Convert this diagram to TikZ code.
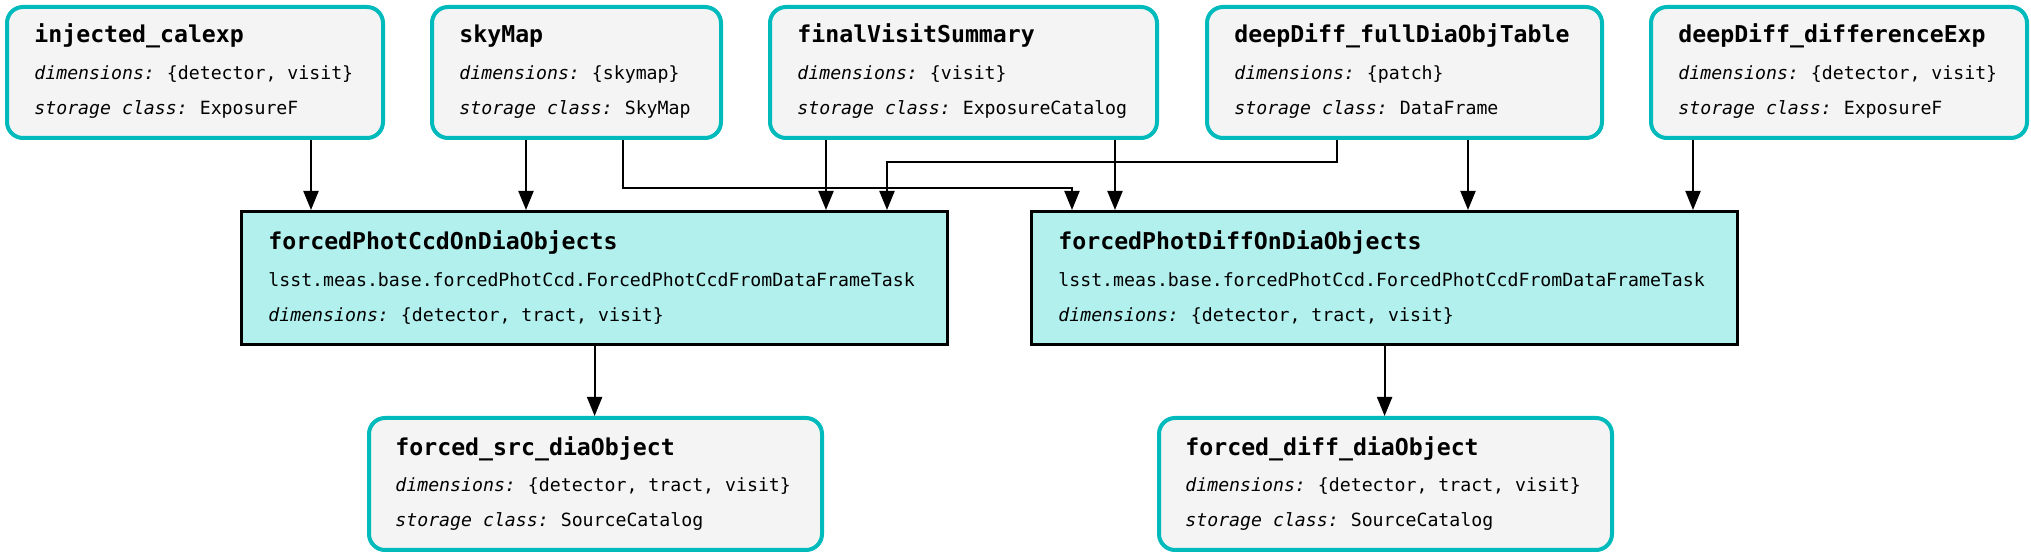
\documentclass[tikz,border=0pt]{standalone}
\usepackage{fontspec}
\newfontfamily\dvm{DejaVu Sans Mono}[ItalicFont={DejaVu Sans Mono Oblique},BoldFont={DejaVu Sans Mono Bold}]
\usetikzlibrary{arrows.meta,calc}
\definecolor{dsborder}{HTML}{00BABC}
\definecolor{dsfill}{HTML}{F4F4F4}
\definecolor{taskfill}{HTML}{B2F0EE}
\newcommand{\dlabel}[1]{{\itshape #1}\hspace{6pt}}
\tikzset{
 ds/.style={draw=dsborder, line width=2pt, fill=dsfill, rounded corners=8pt, inner sep=0pt, anchor=north west},
 task/.style={draw=black, line width=1.6pt, fill=taskfill, inner sep=0pt, anchor=north west},
 ttl/.style={anchor=mid west, inner sep=0pt, font=\dvm\bfseries\fontsize{11.6}{13}\selectfont},
 txt/.style={anchor=mid west, inner sep=0pt, font=\dvm\fontsize{9.1}{11}\selectfont},
 arr/.style={line width=1pt, -{Triangle[length=9.5pt,width=7.5pt]}},
}
\begin{document}
\begin{tikzpicture}[x=0.5pt,y=-0.5pt]
\useasboundingbox (0,0) rectangle (2031,555);
% top row datasets
\node[ds, minimum width=188pt, minimum height=65.5pt] (n1) at (5,5) {};
\node[ttl] (n1a) at ($(n1.north west)+(29,33)$) {injected\_calexp};
\node[txt] (n1b) at ($(n1.north west)+(29,70)$) {\dlabel{dimensions:}\{detector, visit\}};
\node[txt] (n1c) at ($(n1.north west)+(29,105)$) {\dlabel{storage class:}ExposureF};

\node[ds, minimum width=144.5pt, minimum height=65.5pt] (n2) at (430,5) {};
\node[ttl] (n2a) at ($(n2.north west)+(29,33)$) {skyMap};
\node[txt] (n2b) at ($(n2.north west)+(29,70)$) {\dlabel{dimensions:}\{skymap\}};
\node[txt] (n2c) at ($(n2.north west)+(29,105)$) {\dlabel{storage class:}SkyMap};

\node[ds, minimum width=193.5pt, minimum height=65.5pt] (n3) at (768,5) {};
\node[ttl] (n3a) at ($(n3.north west)+(29,33)$) {finalVisitSummary};
\node[txt] (n3b) at ($(n3.north west)+(29,70)$) {\dlabel{dimensions:}\{visit\}};
\node[txt] (n3c) at ($(n3.north west)+(29,105)$) {\dlabel{storage class:}ExposureCatalog};

\node[ds, minimum width=197.5pt, minimum height=65.5pt] (n4) at (1205,5) {};
\node[ttl] (n4a) at ($(n4.north west)+(29,33)$) {deepDiff\_fullDiaObjTable};
\node[txt] (n4b) at ($(n4.north west)+(29,70)$) {\dlabel{dimensions:}\{patch\}};
\node[txt] (n4c) at ($(n4.north west)+(29,105)$) {\dlabel{storage class:}DataFrame};

\node[ds, minimum width=188pt, minimum height=65.5pt] (n5) at (1649,5) {};
\node[ttl] (n5a) at ($(n5.north west)+(29,33)$) {deepDiff\_differenceExp};
\node[txt] (n5b) at ($(n5.north west)+(29,70)$) {\dlabel{dimensions:}\{detector, visit\}};
\node[txt] (n5c) at ($(n5.north west)+(29,105)$) {\dlabel{storage class:}ExposureF};

% tasks
\node[task, minimum width=353pt, minimum height=66.5pt] (n6) at (240,210) {};
\node[ttl] (n6a) at ($(n6.north west)+(28,35)$) {forcedPhotCcdOnDiaObjects};
\node[txt] (n6b) at ($(n6.north west)+(28,72.5)$) {lsst.meas.base.forcedPhotCcd.ForcedPhotCcdFromDataFrameTask};
\node[txt] (n6c) at ($(n6.north west)+(28,107.5)$) {\dlabel{dimensions:}\{detector, tract, visit\}};

\node[task, minimum width=353pt, minimum height=66.5pt] (n7) at (1030,210) {};
\node[ttl] (n7a) at ($(n7.north west)+(28,35)$) {forcedPhotDiffOnDiaObjects};
\node[txt] (n7b) at ($(n7.north west)+(28,72.5)$) {lsst.meas.base.forcedPhotCcd.ForcedPhotCcdFromDataFrameTask};
\node[txt] (n7c) at ($(n7.north west)+(28,107.5)$) {\dlabel{dimensions:}\{detector, tract, visit\}};

% outputs
\node[ds, minimum width=226.5pt, minimum height=66pt] (n8) at (367,416) {};
\node[ttl] (n8a) at ($(n8.north west)+(28,35)$) {forced\_src\_diaObject};
\node[txt] (n8b) at ($(n8.north west)+(28,71)$) {\dlabel{dimensions:}\{detector, tract, visit\}};
\node[txt] (n8c) at ($(n8.north west)+(28,106)$) {\dlabel{storage class:}SourceCatalog};

\node[ds, minimum width=226.5pt, minimum height=66pt] (n9) at (1157,416) {};
\node[ttl] (n9a) at ($(n9.north west)+(28,35)$) {forced\_diff\_diaObject};
\node[txt] (n9b) at ($(n9.north west)+(28,71)$) {\dlabel{dimensions:}\{detector, tract, visit\}};
\node[txt] (n9c) at ($(n9.north west)+(28,106)$) {\dlabel{storage class:}SourceCatalog};

% connectors
\coordinate (b1) at (1072,188);
\coordinate (b2) at (887,162);
\draw[arr] (n1.south -| 311,0) -- (n6.north -| 311,0);
\draw[arr] (n2.south -| 526,0) -- (n6.north -| 526,0);
\draw[arr] (n2.south -| 623,0) |- (b1) -- (n7.north -| b1);
\draw[arr] (n3.south -| 826,0) -- (n6.north -| 826,0);
\draw[arr] (n3.south -| 1115,0) -- (n7.north -| 1115,0);
\draw[arr] (n4.south -| 1337,0) |- (b2) -- (n6.north -| b2);
\draw[arr] (n4.south -| 1468,0) -- (n7.north -| 1468,0);
\draw[arr] (n5.south -| 1693,0) -- (n7.north -| 1693,0);
\draw[arr] (n6.south) -- (n8.north -| n6.south);
\draw[arr] (n7.south) -- (n9.north -| n7.south);
\end{tikzpicture}
\end{document}
